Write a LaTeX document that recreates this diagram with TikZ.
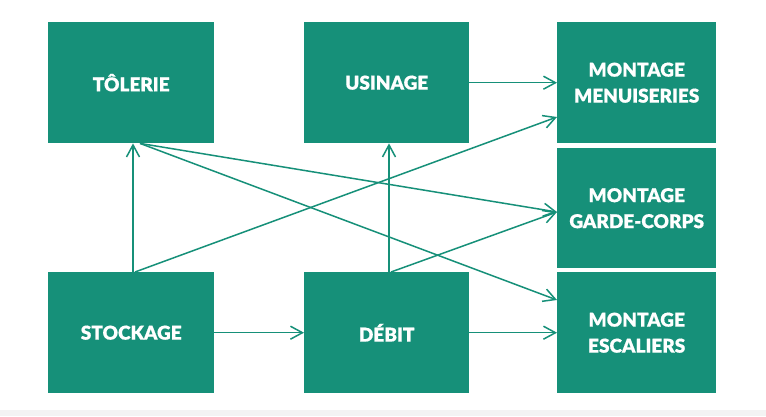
\documentclass[tikz,border=0pt]{standalone}
\usepackage{fontspec}
\setmainfont{Lato}[UprightFont=* Bold, FakeBold=0.6]
\usetikzlibrary{arrows.meta}
\definecolor{teal1}{RGB}{22,144,121}
\definecolor{band}{RGB}{243,243,243}
\tikzset{
  box/.style={fill=teal1, text=white, anchor=north west, inner sep=0pt,
    align=center, font=\bfseries\fontsize{19}{26}\selectfont},
  conn/.style={draw=teal1, line width=1.5pt, -{Straight Barb[length=12pt,width=13pt,line width=1.5pt]}}
}
\begin{document}
\begin{tikzpicture}[x=1pt,y=-1pt]
\useasboundingbox[fill=white] (0,0) rectangle (766,416);
\fill[band] (0,410) rectangle (766,416);
\node[box, minimum width=166pt, minimum height=121pt] (tol) at (48,22) {TÔLERIE};
\node[box, minimum width=165pt, minimum height=121pt] (usi) at (304,22) {USINAGE};
\node[box, minimum width=159pt, minimum height=121pt] (men) at (557,22) {MONTAGE\\MENUISERIES};
\node[box, minimum width=159pt, minimum height=120pt] (gar) at (557,148) {MONTAGE\\GARDE-CORPS};
\node[box, minimum width=159pt, minimum height=121pt] (esc) at (557,272) {MONTAGE\\ESCALIERS};
\node[box, minimum width=166pt, minimum height=121pt] (sto) at (48,272) {STOCKAGE};
\node[box, minimum width=165pt, minimum height=121pt] (deb) at (304,272) {DÉBIT};
% connectors
\draw[conn] ([xshift=85pt]sto.north west) -- ([xshift=85pt]tol.south west);
\draw[conn] ([xshift=87pt]sto.north west) -- ([yshift=-95pt]men.north west);
\draw[conn] ([xshift=92pt]tol.south west) -- ([yshift=-64pt]gar.north west);
\draw[conn] ([xshift=92pt]tol.south west) -- ([yshift=-28pt]esc.north west);
\draw[conn] ([xshift=85pt]deb.north west) -- ([xshift=85pt]usi.south west);
\draw[conn] ([xshift=87pt]deb.north west) -- ([yshift=-64pt]gar.north west);
\draw[conn] (usi.east) -- (usi.east -| men.west);
\draw[conn] (deb.east) -- (deb.east -| esc.west);
\draw[conn] (sto.east) -- (deb.west);
\end{tikzpicture}
\end{document}
